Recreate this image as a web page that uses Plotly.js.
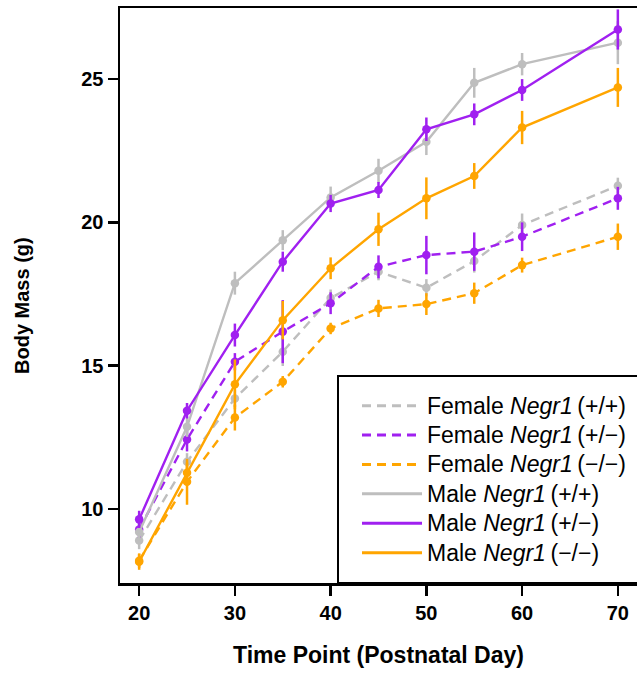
<!DOCTYPE html>
<html>
<head>
<meta charset="utf-8">
<script src="https://cdn.plot.ly/plotly-3.0.1.min.js"></script>
<style>
  html, body { margin: 0; padding: 0; background: #ffffff; }
  #chart { width: 637px; height: 674px; }
</style>
</head>
<body>
<div id="chart"></div>
<script>
// ---- data ----
const days = [20, 25, 30, 35, 40, 45, 50, 55, 60, 70];

const femaleWT      = [8.90, 11.65, 13.86, 15.49, 17.36, 18.28, 17.72, 18.65, 19.91, 21.28];
const femaleWTErr   = [0.30, 0.30, 0.30, 0.50, 0.30, 0.30, 0.30, 0.40, 0.40, 0.28];
const femaleHet     = [9.29, 12.43, 15.14, 16.19, 17.18, 18.45, 18.86, 18.98, 19.50, 20.84];
const femaleHetErr  = [0.30, 0.42, 0.30, 1.10, 0.38, 0.40, 0.67, 0.67, 0.50, 0.40];
const femaleKO      = [8.20, 10.95, 13.19, 14.44, 16.30, 17.00, 17.15, 17.53, 18.51, 19.50];
const femaleKOErr   = [0.25, 0.80, 0.45, 0.20, 0.20, 0.30, 0.38, 0.37, 0.26, 0.46];
const maleWT        = [9.20, 12.87, 17.88, 19.38, 20.87, 21.80, 22.81, 24.87, 25.52, 26.27];
const maleWTErr     = [0.30, 0.35, 0.40, 0.35, 0.38, 0.42, 0.46, 0.52, 0.39, 0.75];
const maleHet       = [9.64, 13.43, 16.07, 18.63, 20.66, 21.13, 23.25, 23.77, 24.62, 26.73];
const maleHetErr    = [0.30, 0.27, 0.40, 0.35, 0.30, 0.28, 0.41, 0.38, 0.38, 0.70];
const maleKO        = [8.16, 11.27, 14.35, 16.59, 18.40, 19.76, 20.84, 21.62, 23.31, 24.71];
const maleKOErr     = [0.28, 0.35, 0.87, 0.67, 0.38, 0.58, 0.73, 0.45, 0.58, 0.68];

const seriesNames = [
  'Female <i>Negr1</i>\u2009(+/+)',
  'Female <i>Negr1</i>\u2009(+/\u2212)',
  'Female <i>Negr1</i>\u2009(\u2212/\u2212)',
  'Male <i>Negr1</i>\u2009(+/+)',
  'Male <i>Negr1</i>\u2009(+/\u2212)',
  'Male <i>Negr1</i>\u2009(\u2212/\u2212)'
];
const xTicks = [20, 30, 40, 50, 60, 70];
const yTicks = [10, 15, 20, 25];
const xTitle = 'Time Point (Postnatal Day)';
const yTitle = 'Body Mass (g)';

// ---- styles ----
const GREY = '#BEBEBE', PURPLE = '#A020F0', ORANGE = '#FFA500';
const FONT = 'Liberation Sans, Arial, Helvetica, sans-serif';
const DASH = '9px,6px';

const seriesY   = [femaleWT, femaleHet, femaleKO, maleWT, maleHet, maleKO];
const seriesErr = [femaleWTErr, femaleHetErr, femaleKOErr, maleWTErr, maleHetErr, maleKOErr];
const colors    = [GREY, PURPLE, ORANGE, GREY, PURPLE, ORANGE];
const dashes    = [DASH, DASH, DASH, 'solid', 'solid', 'solid'];

const traces = [];
for (let i = 0; i < 6; i++) {
  traces.push({
    type: 'scatter', mode: 'lines+markers',
    x: days, y: seriesY[i],
    error_y: { type: 'data', array: seriesErr[i], visible: true, color: colors[i], thickness: 2.5, width: 0 },
    line: { color: colors[i], width: 2.4, dash: dashes[i] },
    marker: { color: colors[i], size: 8.5 },
    showlegend: false, hoverinfo: 'skip'
  });
}
// legend-only entries (lines only, like the reference key)
for (let i = 0; i < 6; i++) {
  traces.push({
    type: 'scatter', mode: 'lines',
    x: [null], y: [null],
    name: '<span style="font-size:23px">' + seriesNames[i] + '</span>',
    line: { color: colors[i], width: 3, dash: dashes[i] },
    showlegend: true
  });
}

const PLOT_L = 120, PLOT_R = 637, PLOT_T = 8, PLOT_B = 583;
const plotW = PLOT_R - PLOT_L, plotH = PLOT_B - PLOT_T;

const layout = {
  width: 637, height: 674,
  margin: { l: PLOT_L, r: 637 - PLOT_R, t: PLOT_T, b: 674 - PLOT_B, pad: 0 },
  paper_bgcolor: '#ffffff', plot_bgcolor: '#ffffff',
  font: { family: FONT, color: '#000000' },
  showlegend: true,
  xaxis: {
    range: [18, 72], tickvals: xTicks, ticktext: xTicks.map(String),
    showgrid: false, zeroline: false,
    showline: true, linecolor: '#000000', linewidth: 2.5, mirror: true,
    ticks: 'outside', ticklen: 10, tickwidth: 2.5, tickcolor: '#000000',
    tickfont: { family: FONT, size: 20, color: '#000000', weight: 'bold' },
    title: { text: xTitle, font: { family: FONT, size: 23, color: '#000000', weight: 'bold' }, standoff: 25 },
    automargin: false
  },
  yaxis: {
    range: [7.42, 27.48], tickvals: yTicks, ticktext: yTicks.map(String),
    showgrid: false, zeroline: false,
    showline: true, linecolor: '#000000', linewidth: 2.5, mirror: false,
    ticks: 'outside', ticklen: 10, tickwidth: 2.5, tickcolor: '#000000',
    tickfont: { family: FONT, size: 20, color: '#000000', weight: 'bold' },
    automargin: false
  },
  annotations: [{
    text: yTitle, textangle: -90, showarrow: false,
    xref: 'paper', yref: 'paper',
    x: (22 - PLOT_L) / plotW, xanchor: 'center',
    y: (PLOT_B - 306) / plotH, yanchor: 'middle',
    font: { family: FONT, size: 20, color: '#000000', weight: 'bold' }
  }],
  legend: {
    x: (357 - PLOT_L) / plotW, xanchor: 'left',
    y: (PLOT_B - 386) / plotH, yanchor: 'top',
    bgcolor: 'rgba(0,0,0,0)', borderwidth: 0,
    font: { family: FONT, size: 20.3, color: '#000000' },
    itemwidth: 60, traceorder: 'normal'
  },
  shapes: [{
    type: 'rect', xref: 'paper', yref: 'paper', layer: 'above',
    x0: (338 - PLOT_L) / plotW, x1: 1.2,
    y0: 0, y1: (PLOT_B - 376) / plotH,
    line: { color: '#000000', width: 2 }, fillcolor: '#ffffff'
  }]
};

Plotly.newPlot('chart', traces, layout, { staticPlot: true, displayModeBar: false });
</script>
</body>
</html>
